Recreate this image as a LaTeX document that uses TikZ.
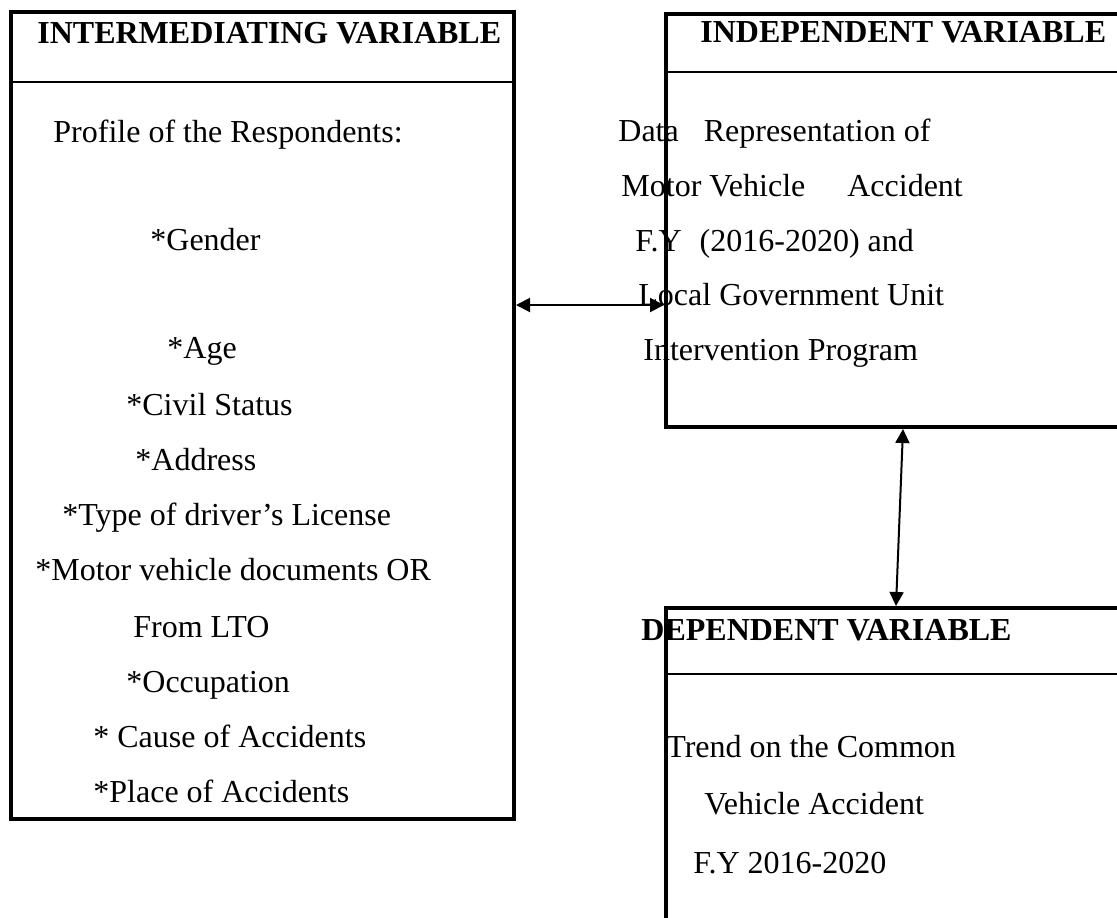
\documentclass[tikz,border=0pt]{standalone}
\usepackage{fontspec}
\setmainfont{Liberation Serif}
\usetikzlibrary{arrows.meta}

\begin{document}
\begin{tikzpicture}[x=0.5pt, y=-0.5pt,
  frame/.style={draw, line width=2pt, inner sep=0pt},
  divider/.style={line width=1pt},
  head/.style={anchor=base west, inner sep=0pt, font=\fontsize{16}{19}\selectfont\bfseries},
  item/.style={anchor=base west, inner sep=0pt, font=\fontsize{16}{19}\selectfont},
  link/.style={line width=1pt, {Triangle[length=7pt,width=7pt]}-{Triangle[length=7pt,width=7pt]}}]
  \useasboundingbox (0,0) rectangle (1117,917);
  \clip (0,0) rectangle (1117,917);

  % boxes
  \node (intBox) [frame, minimum width=251.5pt, minimum height=403.5pt] at (262.5,415.5) {};
  \node (indBox) [frame, minimum width=232pt, minimum height=206.5pt] at (898,220.5) {};
  \node (depBox) [frame, minimum width=232pt, minimum height=176pt] at (898,784) {};

  \draw[divider] ([yshift=-36pt]intBox.north west) -- ([yshift=-36pt]intBox.north east);
  \draw[divider] ([yshift=-30pt]indBox.north west) -- ([yshift=-30pt]indBox.north east);
  \draw[divider] ([yshift=-34pt]depBox.north west) -- ([yshift=-34pt]depBox.north east);

  % headers
  \node (intHead) [head] at (37,43)  {INTERMEDIATING VARIABLE};
  \node (indHead) [head] at (700,42) {INDEPENDENT VARIABLE};
  \node (depHead) [head] at (641,640) {DEPENDENT VARIABLE};

  % intermediating variable
  \node (profile)  [item] at (53,142)  {Profile of the Respondents:};
  \node (gender)   [item] at (150,250) {*Gender};
  \node (age)      [item] at (167,358) {*Age};
  \node (civil)    [item] at (126,415) {*Civil Status};
  \node (address)  [item] at (135,470) {*Address};
  \node (license)  [item] at (62,525)  {*Type of driver’s License};
  \node (docs)     [item] at (35,580)  {*Motor vehicle documents OR};
  \node (lto)      [item] at (133,637) {From LTO};
  \node (occup)    [item] at (126,692) {*Occupation};
  \node (cause)    [item] at (93,747)  {* Cause of Accidents};
  \node (place)    [item] at (93,802)  {*Place of Accidents};

  % independent variable
  \node (indA) [item] at (618,141) {Data\hspace{8.5pt} Representation of};
  \node (indB) [item] at (621,196) {Motor Vehicle\hspace{17pt} Accident};
  \node (indC) [item] at (635,251) {F.Y\hspace{5pt} (2016-2020) and};
  \node (indD) [item] at (638,305) {Local Government Unit};
  \node (indE) [item] at (643,360) {Intervention Program};

  % dependent variable
  \node (depA) [item] at (666,757) {Trend on the Common};
  \node (depB) [item] at (704,814) {Vehicle Accident};
  \node (depC) [item] at (693,873) {F.Y 2016-2020};

  \coordinate (linkY) at (0,305);
  \draw[link] (intBox.east |- linkY) -- (indBox.west |- linkY);
  \draw[link] ([xshift=2.5pt]indBox.south) -- ([xshift=-1pt]depBox.north);
\end{tikzpicture}
\end{document}
